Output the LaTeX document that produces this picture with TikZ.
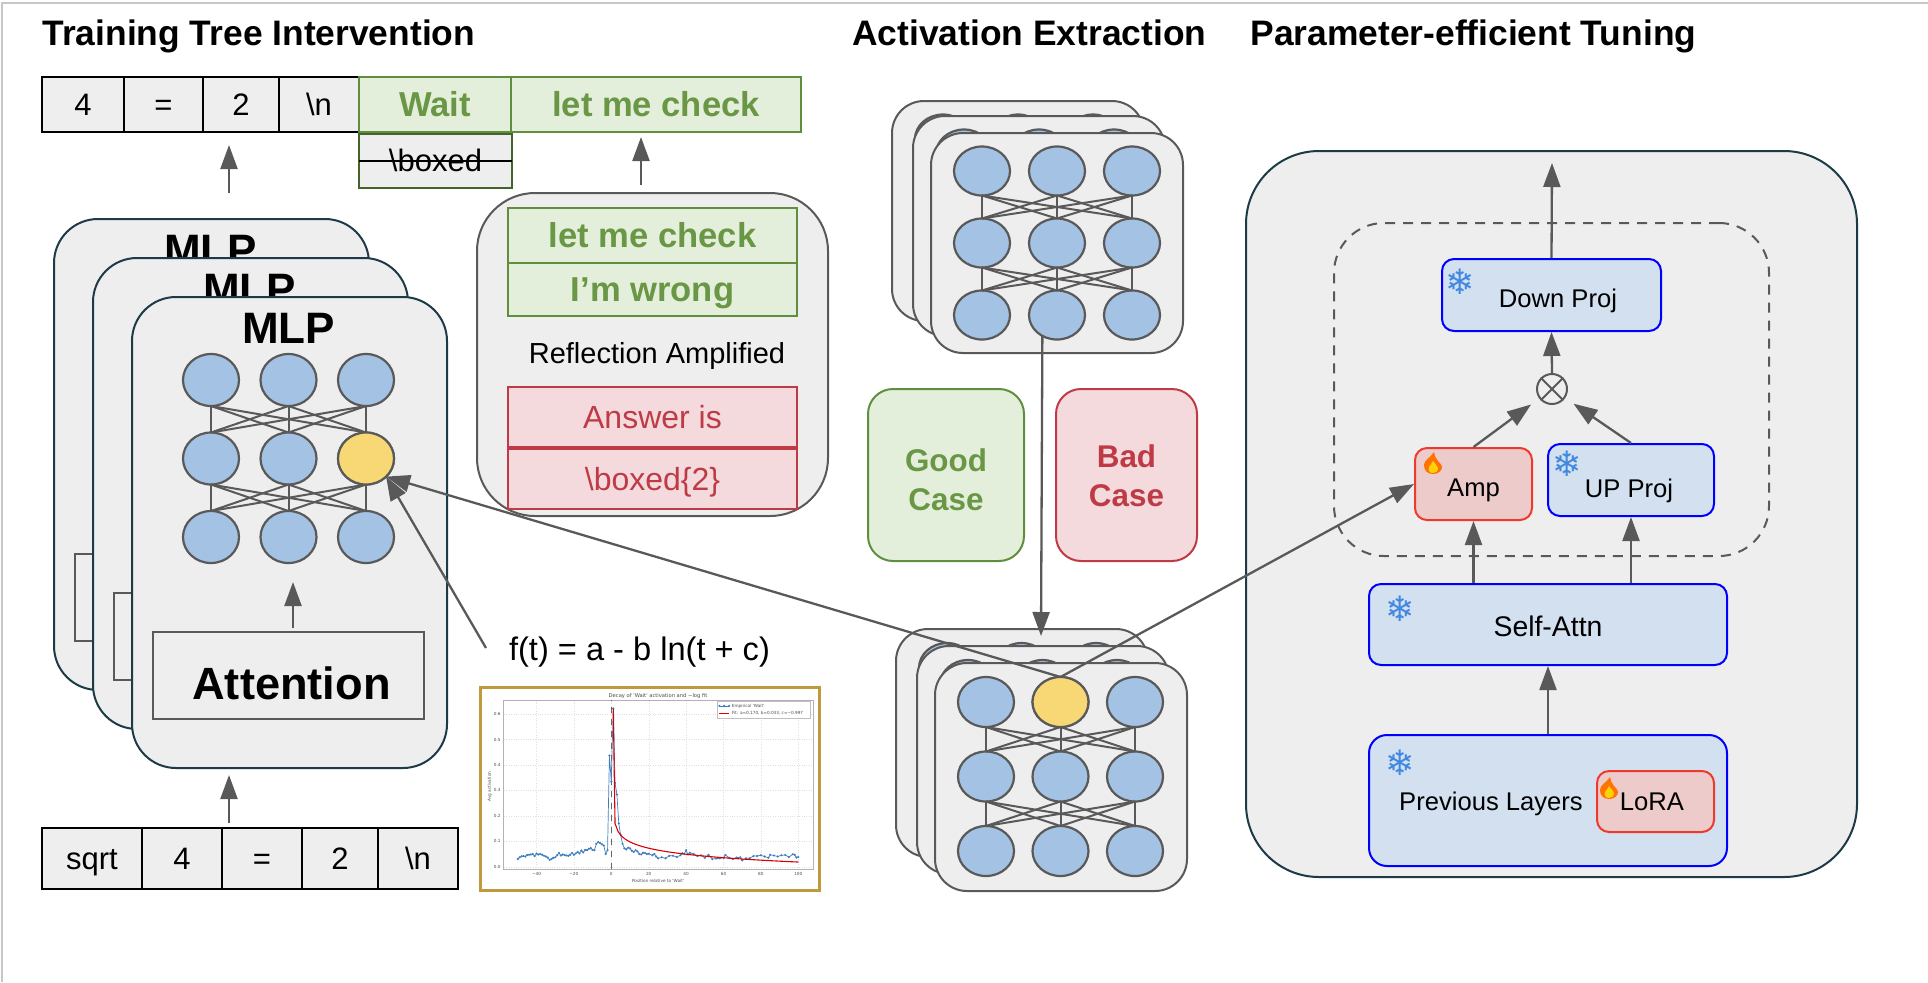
\documentclass[tikz,border=0pt]{standalone}
\usepackage{fontspec}
\setmainfont{Liberation Sans}
\newfontfamily\plotfont{DejaVu Sans}
\usetikzlibrary{arrows.meta, positioning, shapes.geometric}

\definecolor{panelgrey}{HTML}{EEEEEE}
\definecolor{cardteal}{HTML}{1D3B47}
\definecolor{linegrey}{HTML}{595959}
\definecolor{neuronblue}{HTML}{A4C2E3}
\definecolor{neuronyellow}{HTML}{F8D875}
\definecolor{goodfill}{HTML}{E4EFDB}
\definecolor{goodline}{HTML}{5F8F3E}
\definecolor{goodtext}{HTML}{6A9745}
\definecolor{badfill}{HTML}{F4DADD}
\definecolor{badline}{HTML}{BE3B46}
\definecolor{blockfill}{HTML}{D2E0F0}
\definecolor{blockline}{HTML}{0000FF}
\definecolor{hotfill}{HTML}{ECCBCA}
\definecolor{hotline}{HTML}{EE3A2C}
\definecolor{goldline}{HTML}{BF9A3D}
\definecolor{snowblue}{HTML}{4088E0}
\definecolor{plotblue}{HTML}{3F7FBF}

% one 3x3 net: prefix, first x, first y, x step, y step, height
\newcommand{\neuralnet}[6]{
  \foreach \row in {1,2,3} {
    \foreach \col in {1,2,3} {
      \node[neuron, minimum height=#6pt] (#1-\row-\col) at ({#2+(\col-1)*#4},{#3+(\row-1)*#5}) {};
    }
  }
  \foreach \row/\nextrow in {1/2,2/3} {
    \foreach \col in {1,2,3} {
      \foreach \other in {1,2,3} {
        \draw[netedge] (#1-\row-\col.south) -- (#1-\nextrow-\other.north);
      }
    }
  }
}

\begin{document}
\begin{tikzpicture}[
  x=0.5pt, y=-0.5pt,
  titletext/.style={font=\fontsize{17.7}{20}\selectfont\bfseries, anchor=base west, inner sep=0pt},
  tokenbox/.style={draw=black, line width=1pt, fill=panelgrey, inner sep=0pt, outer sep=0pt, text height=12pt, text depth=1.5pt, font=\fontsize{15.5}{18}\selectfont},
  goodtoken/.style={draw=goodline, line width=1pt, fill=goodfill, text=goodtext, inner sep=0pt, outer sep=0pt, text height=12.4pt, text depth=0pt, font=\fontsize{17.3}{20}\selectfont\bfseries},
  badtoken/.style={draw=badline, line width=1pt, fill=badfill, text=badline, inner sep=0pt, outer sep=0pt, text height=11.5pt, text depth=0pt, font=\fontsize{16}{19}\selectfont},
  netcard/.style={draw=linegrey, line width=1pt, fill=panelgrey, rounded corners=16pt},
  mlpcard/.style={draw=cardteal, line width=1pt, fill=panelgrey, rounded corners=22pt, minimum width=157.5pt, minimum height=235.5pt},
  attnbox/.style={draw=linegrey, line width=1pt, fill=panelgrey, minimum width=135.5pt, minimum height=43.5pt, inner sep=0pt, text height=24pt, text depth=0pt, font=\fontsize{22.6}{25}\selectfont\bfseries},
  neuron/.style={ellipse, draw=linegrey, line width=1.1pt, fill=neuronblue, minimum width=28pt, inner sep=0pt, outer sep=0pt},
  netedge/.style={draw=linegrey, line width=1pt},
  bigtext/.style={font=\fontsize{22}{24}\selectfont\bfseries, inner sep=0pt},
  casebox/.style={line width=1pt, rounded corners=12.5pt, align=center, minimum height=86pt, font=\fontsize{15.7}{19.5}\selectfont\bfseries},
  blockbox/.style={draw=blockline, line width=1pt, fill=blockfill, rounded corners=6pt, inner sep=0pt, font=\fontsize{12.8}{15}\selectfont},
  hotbox/.style={draw=hotline, line width=1pt, fill=hotfill, rounded corners=6pt, inner sep=0pt, font=\fontsize{12.8}{15}\selectfont},
  blocktext/.style={font=\fontsize{12.8}{15}\selectfont, inner sep=0pt, anchor=base},
  snowmark/.style={font=\plotfont\fontsize{17.5}{17.5}\selectfont, text=snowblue, inner sep=0pt},
  flow/.style={-{Triangle[length=12pt, width=8.5pt]}, draw=linegrey, line width=1.15pt},
  plottext/.style={font=\plotfont\fontsize{2.1}{2.5}\selectfont, text=black!70, inner sep=0pt},
  gridline/.style={draw=black!12, line width=0.2pt, densely dotted},
  flame/.pic={
    \fill[orange!90!red] (0,11) .. controls (-6,11) and (-9,7) .. (-9,2) .. controls (-9,-3) and (-3,-5) .. (1,-11)
      .. controls (2,-6) and (3,-5) .. (5,-2) .. controls (8,1) and (9,3) .. (9,4) .. controls (9,8) and (5,11) .. (0,11) -- cycle;
    \fill[yellow!70!orange] (0,10) .. controls (-4,10) and (-5,7) .. (-4,4) .. controls (-3,2) and (-1,1) .. (0,-2)
      .. controls (2,1) and (5,3) .. (5,6) .. controls (5,8) and (3,10) .. (0,10) -- cycle;
  }
]
\useasboundingbox (0,0) rectangle (1928,982);
\draw[black!22, line width=0.6pt] (2,982) -- (2,3) -- (1928,3);

% Titles
\node[titletext] (titletrain) at (42,45.5) {Training Tree Intervention};
\node[titletext] (titleextract) at (852,45.5) {Activation Extraction};
\node[titletext] (titletune) at (1250,45.5) {Parameter-efficient Tuning};

% Output tokens
\node[tokenbox, minimum width=41pt, minimum height=27.5pt, anchor=west] (uptok1) at (42,104.5) {4};
\foreach \i/\j/\tw/\txt in {2/1/39.5/=, 3/2/38/2, 4/3/40/\textbackslash n} {
  \node[tokenbox, minimum width=\tw pt, minimum height=27.5pt, right=0pt of uptok\j] (uptok\i) {\txt};
}
\node[goodtoken, minimum width=76pt, minimum height=27.5pt, right=0pt of uptok4] (waittok) {Wait};
\node[goodtoken, minimum width=145pt, minimum height=27.5pt, right=0pt of waittok] (checktok) {let me check};
\node[tokenbox, draw=goodline!70!black, minimum width=76.5pt, minimum height=27pt] (boxedtok) at (435.5,161) {\textbackslash boxed};
\draw[black, line width=1pt] (boxedtok.west) -- (boxedtok.east);

% Input tokens
\node[tokenbox, minimum width=50pt, minimum height=30.5pt, anchor=west] (lowtok1) at (42,858.5) {sqrt};
\foreach \i/\j/\tw/\txt in {2/1/40/4, 3/2/40/=, 4/3/38/2, 5/4/40/\textbackslash n} {
  \node[tokenbox, minimum width=\tw pt, minimum height=30.5pt, right=0pt of lowtok\j] (lowtok\i) {\txt};
}

% MLP stack
\foreach \c/\off in {1/-78, 2/-39, 3/0} {
  \node[mlpcard] (mlp\c) at ({289.5+\off},{532.5+\off}) {};
  \node[bigtext] (mlptitle\c) at ({288.5+\off},{328+\off}) {MLP};
  \neuralnet{mlpnet\c}{211+\off}{380+\off}{77.5}{78.5}{26}
  \node[attnbox] (attn\c) at ({288.5+\off},{675.5+\off}) {\ifnum\c=3 \hspace*{3pt}Attention\fi};
}
\node[neuron, minimum height=26pt, fill=neuronyellow] (hotmlp) at (mlpnet3-2-3) {};
\coordinate (attnout) at (293,628);
\coordinate (mlpin) at (293,582);
\draw[flow] (attnout) -- (mlpin);

% Reflection card
\node[netcard, rounded corners=29pt, minimum width=175.5pt, minimum height=161.5pt] (reflect) at (652.5,354.5) {};
\node[goodtoken, minimum width=144.5pt, minimum height=27.5pt] (reflectgood1) at (652.5,235.5) {let me check};
\node[goodtoken, minimum width=144.5pt, minimum height=26.5pt, below=0pt of reflectgood1] (reflectgood2) {I’m wrong};
\node[font=\fontsize{14.5}{17}\selectfont, inner sep=0pt, anchor=base] (reflecttext) at (657,363) {Reflection Amplified};
\node[badtoken, minimum width=144.5pt, minimum height=30pt] (reflectbad1) at (652.5,417) {Answer is};
\node[badtoken, minimum width=144.5pt, minimum height=30pt, below=1pt of reflectbad1] (reflectbad2) {\textbackslash boxed\{2\}};

% Decay formula and plot
\node[font=\fontsize{16.3}{19}\selectfont, inner sep=0pt, anchor=base] (formula) at (639.5,660) {f(t) = a - b ln(t + c)};
\node[draw=goldline, line width=1.5pt, fill=white, minimum width=169.5pt, minimum height=101.5pt] (plotframe) at (649.5,788.5) {};
\begin{scope}[shift={(611.3,866.7)}, x=0.935pt, y=127.2pt]
  \foreach \xv/\xt in {-40/−40, -20/−20, 0/0, 20/20, 40/40, 60/60, 80/80, 100/100} {
    \draw[gridline] (\xv,-0.0105) -- (\xv,0.655);
    \node[plottext] (xtick\xt) at (\xv,-0.03) {\xt};
  }
  \foreach \yv in {0.0,0.1,0.2,0.3,0.4,0.5,0.6} {
    \draw[gridline] (-57.4,\yv) -- (107.9,\yv);
    \node[plottext, anchor=east] (ytick\yv) at (-59,\yv) {\yv};
  }
  \draw[black!30, line width=0.5pt] (-57.4,-0.0105) rectangle (107.9,0.655);
  \draw[black!60, line width=0.2pt, dashed] (0,-0.0105) -- (0,0.655);
  \node[plottext, font=\plotfont\fontsize{2.6}{3}\selectfont] (plottitle) at (25,0.672) {Decay of 'Wait' activation and −log fit};
  \node[plottext] (plotxlabel) at (25,-0.055) {Position relative to 'Wait'};
  \node[plottext, rotate=90] (plotylabel) at (-65,0.315) {Avg activation};
  \draw[plotblue, line width=0.35pt] plot[mark=*, mark size=0.35pt] coordinates {
    (-50,.03) (-49,.037) (-48,.041) (-47,.042) (-46,.04) (-45,.046) (-44,.047) (-43,.048) (-42,.05) (-41,.042)
    (-40,.052) (-39,.048) (-38,.05) (-37,.047) (-36,.043) (-35,.04) (-34,.036) (-33,.027) (-32,.03) (-31,.035)
    (-30,.037) (-29,.045) (-28,.054) (-27,.044) (-26,.048) (-25,.046) (-24,.044) (-23,.043) (-22,.047) (-21,.054)
    (-20,.047) (-19,.052) (-18,.058) (-17,.052) (-16,.064) (-15,.056) (-14,.066) (-13,.065) (-12,.07) (-11,.073)
    (-10,.066) (-9,.065) (-8,.09) (-7,.097) (-6,.093) (-5,.088) (-4,.083) (-3,.05) (-2,.065) (-1,.437) (0,.334)
    (1,.622) (2,.33) (3,.284) (4,.17) (5,.125) (6,.09) (7,.072) (8,.068) (9,.075) (10,.072) (11,.063) (12,.058)
    (13,.065) (14,.06) (15,.05) (16,.048) (17,.055) (18,.054) (19,.05) (20,.051) (22,.045) (23,.05) (24,.04)
    (25,.033) (27,.037) (29,.033) (31,.043) (33,.043) (35,.038) (37,.045) (38,.053) (39,.05) (40,.065) (41,.048)
    (42,.055) (44,.05) (46,.042) (48,.045) (50,.035) (52,.047) (54,.03) (56,.032) (58,.033) (60,.035) (61,.046)
    (63,.035) (65,.03) (67,.036) (69,.037) (70,.025) (72,.033) (74,.033) (76,.042) (78,.042) (80,.045) (82,.04)
    (84,.035) (85,.047) (87,.044) (89,.04) (91,.045) (93,.046) (95,.038) (97,.049) (98,.047) (99,.036) (100,.038)
  };
  \draw[red!85!black, line width=0.55pt] (1.1,.622) -- (1.5,.4) -- plot[domain=2:100, samples=60] (\x,{0.170-0.033*ln(\x-0.997)});
  \draw[black!25, fill=white, line width=0.2pt] (56.7,.583) rectangle (106.6,.649);
  \draw[plotblue, line width=0.35pt] plot[mark=*, mark size=0.35pt] coordinates {(57.8,.632) (60.4,.632) (63,.632)};
  \draw[red!85!black, line width=0.55pt] (57.8,.603) -- (63,.603);
  \node[plottext, anchor=west] (legendwait) at (64.3,.632) {Empirical 'Wait'};
  \node[plottext, anchor=west] (legendfit) at (64.3,.603) {Fit: a=0.170, b=0.033, c=−0.997};
\end{scope}

% Activation stacks
\foreach \c/\dx/\dy in {1/-39/-32, 2/-18/-17, 3/0/0} {
  \node[netcard, minimum width=126pt, minimum height=110pt] (topcard\c) at ({1057+\dx},{243+\dy}) {};
  \neuralnet{topnet\c}{982+\dx}{171+\dy}{75}{72}{24.5}
}
\foreach \c/\dx/\dy in {1/-39/-34, 2/-18/-17, 3/0/0} {
  \node[netcard, minimum width=126pt, minimum height=114pt] (lowcard\c) at ({1061+\dx},{777+\dy}) {};
  \neuralnet{lownet\c}{986+\dx}{702+\dy}{74.5}{74.5}{25}
}
\node[neuron, minimum height=25pt, fill=neuronyellow] (hotlow) at (lownet3-1-2) {};

% Good and bad cases
\node[casebox, draw=goodline, fill=goodfill, text=goodtext, minimum width=78pt] (goodcase) at (946,475) {\rule{0pt}{16.3pt}Good\\Case};
\node[casebox, draw=badline, fill=badfill, text=badline, minimum width=70.5pt] (badcase) at (1126.5,475) {\rule{0pt}{12.3pt}Bad\\Case};

% Tuning panel
\node[draw=cardteal, line width=1pt, fill=panelgrey, rounded corners=36.5pt, minimum width=305.5pt, minimum height=363pt] (tunepanel) at (1551.5,514) {};
\node[draw=linegrey, line width=1pt, dash pattern=on 5pt off 4pt, rounded corners=25pt, minimum width=217.5pt, minimum height=166.5pt] (dashzone) at (1551.5,389.5) {};
\node[blockbox, minimum width=109.5pt, minimum height=36pt] (downproj) at (1551.5,295) {};
\node[blocktext] (downtext) at (1558,307) {Down Proj};
\node[circle, draw=linegrey, line width=1pt, fill=panelgrey, minimum size=15pt, inner sep=0pt] (mix) at (1552,389) {};
\draw[linegrey, line width=1pt] (mix.45) -- (mix.225);
\draw[linegrey, line width=1pt] (mix.135) -- (mix.315);
\node[hotbox, minimum width=58.5pt, minimum height=36pt, text height=12pt, text depth=0pt] (amp) at (1473.5,484) {Amp};
\node[blockbox, minimum width=83pt, minimum height=36pt] (upproj) at (1631,480) {};
\node[blocktext] (uptext) at (1629,497) {UP Proj};
\node[blockbox, minimum width=179pt, minimum height=40.5pt, text height=11.5pt, text depth=0pt, font=\fontsize{14.2}{17}\selectfont] (selfattn) at (1548,624.5) {Self-Attn};
\node[blockbox, rounded corners=9pt, minimum width=179pt, minimum height=65.5pt] (prevlayers) at (1548,800.5) {};
\node[blocktext] (prevtext) at (1491,810) {Previous Layers};
\node[hotbox, minimum width=58.5pt, minimum height=30.5pt] (lora) at (1655.5,801.5) {};
\node[blocktext] (loratext) at (1652,810) {LoRA};

% Icons
\foreach \n/\x/\y in {down/1460/282, up/1567/464, self/1400/609, prev/1400/763} {
  \node[snowmark] (snow\n) at (\x,\y) {❄};
}
\pic (fireamp) at (1433,463) {flame};
\pic (firelora) at (1609,788) {flame};

% Free ends of the short arrows
\coordinate (mlpout) at (229,193);
\coordinate (uptokin) at (229,145);
\coordinate (reflectout) at (641,185);
\coordinate (checkin) at (641,137);
\coordinate (lowtokout) at (229,823);
\coordinate (mlpbase) at (229,775);
\coordinate (fitstart) at (486,648);
\coordinate (casetip) at (1041,636);

% Connectors
\draw[flow] (mlpout) -- (uptokin);
\draw[flow] (reflectout) -- (checkin);
\draw[flow] (lowtokout) -- (mlpbase);
\draw[flow] (fitstart) -- (hotmlp.-42);
\draw[flow] (hotlow.north) -- (hotmlp.-42);
\draw[flow] (hotlow.north) -- (amp.west);
\draw[flow] (topnet3-3-2.235) -- (casetip);
\draw[flow] (prevlayers.north) -- (selfattn.south);
\draw[flow] (amp.south |- selfattn.north) -- (amp.south);
\draw[flow] (upproj.south |- selfattn.north) -- (upproj.south);
\draw[flow, shorten >=5pt] (amp.north) -- (mix);
\draw[flow, shorten >=5pt] (upproj.north) -- (mix);
\draw[flow] (mix.north) -- (downproj.south);
\coordinate (panelout) at (1552,163);
\draw[flow] (downproj.north) -- (panelout);
\end{tikzpicture}
\end{document}
